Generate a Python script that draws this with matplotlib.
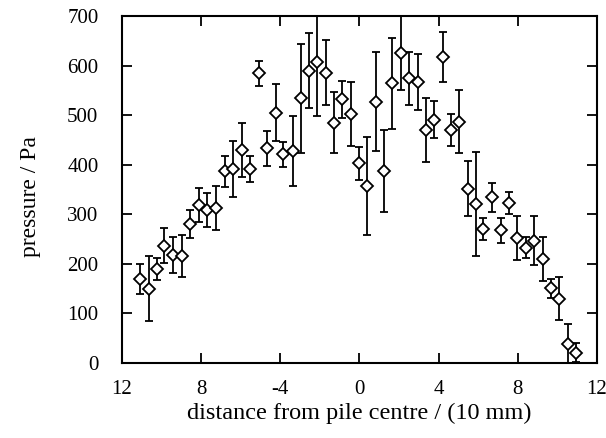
import matplotlib
matplotlib.use("Agg")
import matplotlib.pyplot as plt

# Measured pressure profile across the pile
distance = [-11.09, -10.64, -10.22, -9.86, -9.44, -8.98, -8.56, -8.11, -7.69, -7.25,
            -6.80, -6.38, -5.95, -5.53, -5.08, -4.69, -4.22, -3.85, -3.38, -2.97,
            -2.55, -2.13, -1.71, -1.29, -0.87, -0.44, -0.03, 0.39, 0.82, 1.24,
            1.66, 2.08, 2.52, 2.94, 3.36, 3.78, 4.20, 4.62, 5.04, 5.50,
            5.89, 6.26, 6.71, 7.13, 7.57, 7.97, 8.40, 8.83, 9.26, 9.68,
            10.10, 10.52, 10.94]
pressure = [170, 150, 190, 237, 218, 216, 280, 319, 309, 313,
            387, 391, 430, 391, 584, 433, 505, 421, 428, 534,
            590, 608, 586, 485, 532, 502, 403, 357, 527, 388,
            564, 625, 574, 567, 470, 491, 617, 470, 487, 352,
            321, 270, 334, 268, 323, 252, 233, 247, 210, 151,
            130, 38, 21]
error = [30, 65, 22, 35, 37, 42, 28, 34, 34, 44,
         31, 56, 55, 26, 26, 36, 58, 25, 70, 110,
         75, 110, 65, 62, 37, 64, 33, 99, 100, 83,
         91, 75, 54, 57, 65, 38, 51, 32, 64, 56,
         105, 22, 30, 25, 22, 45, 22, 50, 44, 19,
         43, 40, 19]

x_ticks = [-12, -8, -4, 0, 4, 8, 12]
x_tick_labels = ["12", "8", "-4", "0", "4", "8", "12"]
y_ticks = [0, 100, 200, 300, 400, 500, 600, 700]

plt.rcParams["font.family"] = ["Liberation Serif", "DejaVu Serif"]

fig = plt.figure(figsize=(6.06, 4.38), dpi=100)
ax = fig.add_axes([0.2013, 0.1712, 0.7837, 0.7923])

ax.errorbar(distance, pressure, yerr=error, fmt="D", ms=6.2,
            mfc="white", mec="black", mew=1.3, ecolor="black",
            elinewidth=1.3, capsize=3.2, capthick=1.3, zorder=3)

ax.set_xlim(-12, 12)
ax.set_ylim(0, 700)
ax.set_xticks(x_ticks)
ax.set_xticklabels(x_tick_labels)
ax.set_yticks(y_ticks)

ax.tick_params(direction="in", length=7, width=1.3, top=True, right=True,
               labelsize=15, colors="black")
ax.tick_params(axis="x", pad=12)
ax.tick_params(axis="y", pad=17)
for side in ax.spines.values():
    side.set_linewidth(1.5)
    side.set_color("black")

ax.set_xlabel("distance from pile centre / (10 mm)", fontsize=17.5)
ax.set_ylabel("pressure / Pa", fontsize=17)
ax.xaxis.set_label_coords(0.5, -0.115)
ax.yaxis.set_label_coords(-0.17, 0.48)

fig.savefig("out.png", dpi=100)
